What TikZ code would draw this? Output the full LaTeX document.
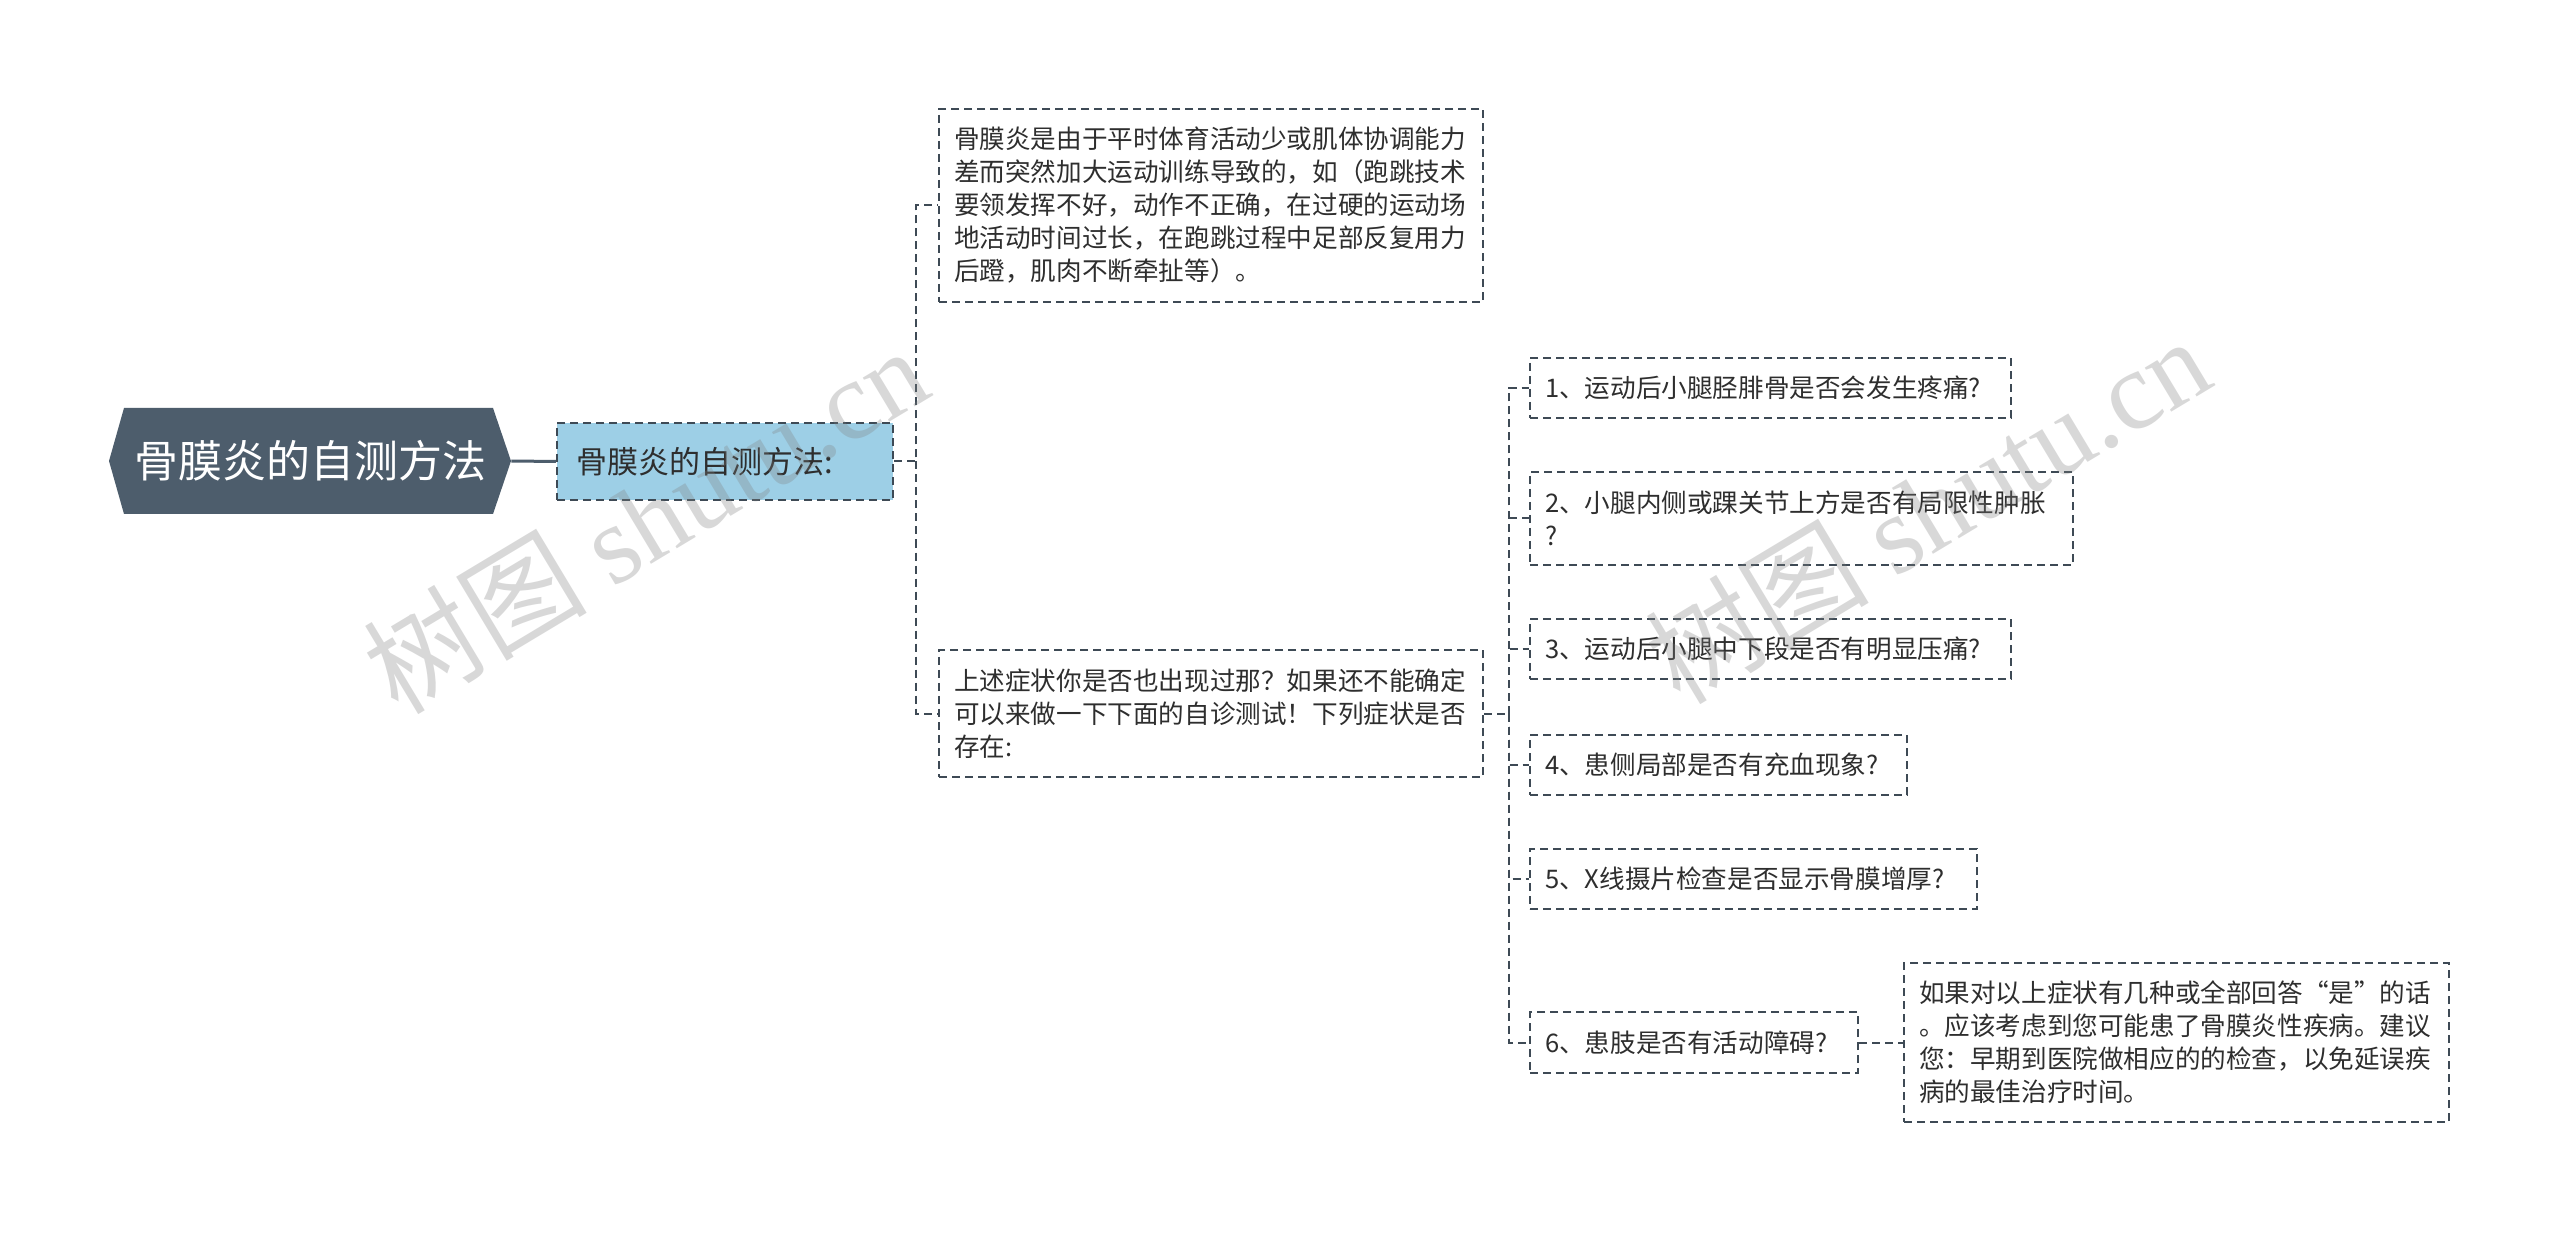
\documentclass[tikz,border=0pt]{standalone}
\usepackage{fontspec}
\setmainfont{Noto Sans CJK SC}
\newfontfamily\wmserif{Liberation Serif}
\usetikzlibrary{calc}
\definecolor{rootfill}{HTML}{4D5D6C}
\definecolor{lineclr}{HTML}{3E4A55}
\definecolor{lvlfill}{HTML}{9DCFE6}
\definecolor{txt}{HTML}{2E2E2E}
\begin{document}
\begin{tikzpicture}[x=0.5pt,y=-0.5pt,
  box/.style={draw=lineclr, line width=1pt, dash pattern=on 4pt off 2.5pt,
    inner xsep=7.5pt, inner ysep=0pt, align=left, text=txt, anchor=center,
    font=\fontsize{12.8}{16.5}\selectfont},
  conn/.style={draw=lineclr, line width=1pt, dash pattern=on 4pt off 2.5pt},
  wm/.style={rotate=31, text=gray, opacity=0.3, font=\fontsize{56}{60}\selectfont}]
\useasboundingbox[fill=white] (0,0) rectangle (2560,1235);
% root
\fill[rootfill] (109,461) -- (124,408) -- (493,408) -- (511,461) -- (493,514) -- (124,514) -- cycle;
\node[minimum width=201pt, minimum height=53pt, inner sep=0pt, text=white,
  font=\fontsize{22}{26}\selectfont] (root) at (310,461) {骨膜炎的自测方法};
% level 1
\node[box, fill=lvlfill, minimum width=168pt, minimum height=38.5pt, text width=149pt,
  inner xsep=9.5pt, font=\fontsize{15.5}{19}\selectfont] (lvl) at (725,461.5) {骨膜炎的自测方法:};
% level 2
\node[box, minimum width=272pt, minimum height=96.5pt, text width=257pt] (A) at (1211,205.5)
  {骨膜炎是由于平时体育活动少或肌体协调能力\\差而突然加大运动训练导致的，如（跑跳技术\\要领发挥不好，动作不正确，在过硬的运动场\\地活动时间过长，在跑跳过程中足部反复用力\\后蹬，肌肉不断牵扯等）。};
\node[box, minimum width=272pt, minimum height=63.5pt, text width=257pt] (B) at (1211,713.5)
  {上述症状你是否也出现过那？如果还不能确定\\可以来做一下下面的自诊测试！下列症状是否\\存在:};
% level 3
\node[box, minimum width=240.5pt, minimum height=30pt, text width=225.5pt] (c1) at (1770.5,388) {1、运动后小腿胫腓骨是否会发生疼痛?};
\node[box, minimum width=271.5pt, minimum height=46.5pt, text width=256.5pt] (c2) at (1801.5,518.5) {2、小腿内侧或踝关节上方是否有局限性肿胀\\?};
\node[box, minimum width=240.5pt, minimum height=30pt, text width=225.5pt] (c3) at (1770.5,649) {3、运动后小腿中下段是否有明显压痛?};
\node[box, minimum width=188.5pt, minimum height=30pt, text width=173.5pt] (c4) at (1718.5,765) {4、患侧局部是否有充血现象?};
\node[box, minimum width=223.5pt, minimum height=30pt, text width=208.5pt] (c5) at (1753.5,879) {5、X线摄片检查是否显示骨膜增厚?};
\node[box, minimum width=164pt, minimum height=30.5pt, text width=149pt] (c6) at (1694,1042.5) {6、患肢是否有活动障碍?};
\node[box, minimum width=272.5pt, minimum height=79.5pt, text width=257.5pt] (D) at (2176.5,1042.5)
  {如果对以上症状有几种或全部回答“是”的话\\。应该考虑到您可能患了骨膜炎性疾病。建议\\您：早期到医院做相应的的检查，以免延误疾\\病的最佳治疗时间。};
% connectors
\draw[rootfill, line width=1.5pt] (root.east) -- (lvl.west);
\coordinate (bus1) at (916,461.5);
\draw[conn] (lvl.east) -- (bus1) |- (A.west);
\draw[conn] (bus1) |- (B.west);
\coordinate (bus2) at (1509,713.5);
\draw[conn] (B.east) -- (bus2);
\foreach \c in {c1,c2,c3,c4,c5,c6} \draw[conn] (bus2) |- (\c.west);
\draw[conn] (c6.east) -- (D.west);
% watermarks
\node[wm] (wm1) at (645,519) {树图 {\wmserif shutu.cn}};
\node[wm] (wm2) at (1927,509) {树图 {\wmserif shutu.cn}};
\end{tikzpicture}
\end{document}
